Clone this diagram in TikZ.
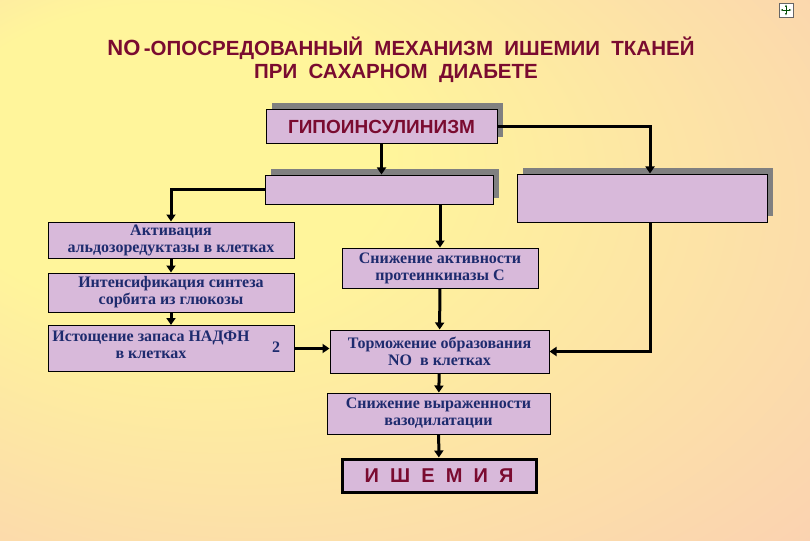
\documentclass[tikz,border=0pt]{standalone}
\usepackage{fontspec}
\setmainfont{Liberation Serif}
\setsansfont{Liberation Sans}
\usepackage{xcolor}
\usetikzlibrary{arrows.meta, positioning, shadows}
\definecolor{bgyellow}{HTML}{FFF59B}
\definecolor{bgpink}{HTML}{F8C0BC}
\definecolor{boxlilac}{HTML}{D8B9DA}
\definecolor{titlered}{HTML}{7A0B30}
\definecolor{textnavy}{HTML}{1E2B6E}
\pgfdeclareradialshading{bgglow}{\pgfpoint{-20bp}{14bp}}{color(0bp)=(bgyellow); color(14bp)=(bgyellow); color(56bp)=(bgpink)}
\tikzset{
  stepbox/.style={draw=black,fill=boxlilac,line width=1pt,inner sep=0pt,text=textnavy,align=center,
    font=\bfseries\fontsize{16}{17}\selectfont},
  shadbox/.style={stepbox,drop shadow={shadow xshift=6pt,shadow yshift=6pt,fill=black!50,opacity=1}},
  headtxt/.style={text=titlered,font=\sffamily\bfseries\fontsize{20.5}{22}\selectfont},
  flowarrow/.style={-{Triangle[length=7pt,width=9pt]},line width=3pt,black},
}

\begin{document}
\begin{tikzpicture}[x=1pt,y=-1pt]
  \fill[shading=bgglow] (0,0) rectangle (810,540);
  \useasboundingbox (0,0) rectangle (810,540);
  % title
  \node[headtxt] (nTitleA) at (401,48) {{\fontsize{22}{22}\selectfont NO}\,-ОПОСРЕДОВАННЫЙ\ \ МЕХАНИЗМ\ \ ИШЕМИИ\ \ ТКАНЕЙ};
  \node[headtxt] (nTitleB) at (396,73) {ПРИ\ \ САХАРНОМ\ \ ДИАБЕТЕ};
  % boxes
  \node[shadbox,minimum width=231pt,minimum height=34pt,text=titlered,font=\sffamily\bfseries\fontsize{19}{20}\selectfont] (nHypo) at (381.5,126.5) {ГИПОИНСУЛИНИЗМ};
  \node[shadbox,minimum width=228pt,minimum height=29pt] (nBlankL) at (379,189.5) {};
  \node[shadbox,minimum width=250pt,minimum height=48pt] (nBlankR) at (642,198) {};
  \node[stepbox,minimum width=246pt,minimum height=36pt] (nAldose) at (171,240) {Активация\\альдозоредуктазы в клетках};
  \node[stepbox,minimum width=246pt,minimum height=39pt] (nSorbit) at (171,292.5) {Интенсификация синтеза\\сорбита из глюкозы};
  \node[stepbox,minimum width=246pt,minimum height=46pt] (nNadph) at (171,348.5) {};
  \node[text=textnavy,align=center,font=\bfseries\fontsize{16}{17}\selectfont] (nNadphTxt) at (151,345) {Истощение запаса НАДФН\\в клетках};
  \node[text=textnavy,font=\bfseries\fontsize{16}{17}\selectfont] (nTwo) at (276,347) {2};
  \node[stepbox,minimum width=196pt,minimum height=40pt] (nPKC) at (440,268) {Снижение активности\\протеинкиназы С};
  \node[stepbox,minimum width=219pt,minimum height=43pt] (nNO) at (439.5,351.5) {Торможение образования\\NO\ \ в клетках};
  \node[stepbox,minimum width=223pt,minimum height=41pt] (nVaso) at (438.5,413.5) {Снижение выраженности\\вазодилатации};
  \node[stepbox,line width=3pt,minimum width=194pt,minimum height=33pt,text=titlered,font=\sffamily\bfseries\fontsize{20}{20}\selectfont] (nIschemia) at (439,475.5) {И\ \ Ш\ \ Е\ \ М\ \ И\ \ Я};
  % corner icon
  \node[draw=black!60,fill=white,minimum size=14pt,inner sep=0pt] (nNavIcon) at (786,10) {};
  \draw[{Latex[length=2.5pt]}-{Latex[length=2.5pt]},line width=0.8pt,black!70!green] ([xshift=1.5pt]nNavIcon.west) -- ([xshift=-1.5pt]nNavIcon.east);
  \draw[{Latex[length=2.5pt]}-{Latex[length=2.5pt]},line width=0.8pt,black!70!green] ([yshift=-1.5pt]nNavIcon.north) -- ([yshift=1.5pt]nNavIcon.south);
  % arrows
  \draw[flowarrow] (nHypo) -- (nHypo.south |- nBlankL.north);
  \draw[flowarrow] (nHypo.east) -| ([xshift=8pt]nBlankR.north);
  \draw[flowarrow] (nBlankL.west) -| (nAldose.north);
  \draw[flowarrow] (nBlankL.south -| nPKC.north) -- (nPKC.north);
  \draw[flowarrow] (nAldose) -- (nSorbit);
  \draw[flowarrow] (nSorbit) -- (nNadph);
  \draw[flowarrow] (nNadph.east) -- (nNadph.east -| nNO.west);
  \draw[flowarrow] ([xshift=8pt]nBlankR.south) |- (nNO.east);
  \draw[flowarrow] (nPKC) -- (nNO);
  \draw[flowarrow] (nNO) -- (nVaso);
  \draw[flowarrow] (nVaso) -- (nIschemia);
\end{tikzpicture}
\end{document}
